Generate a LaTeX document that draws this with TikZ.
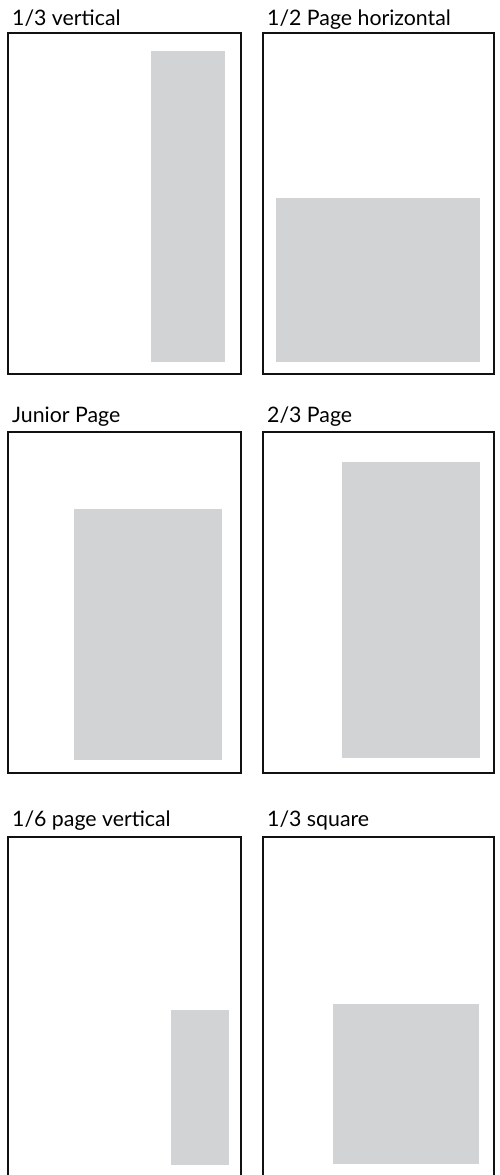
\documentclass[tikz,border=0pt]{standalone}
\usepackage{fontspec}
\setmainfont{Lato}
\usetikzlibrary{positioning}
\definecolor{adGray}{HTML}{D1D3D4}
\definecolor{frameInk}{HTML}{111111}

\begin{document}
\begin{tikzpicture}[
    x=1pt, y=-1pt,
    pageframe/.style={draw=frameInk, line width=2.2pt},
    adarea/.style={fill=adGray, draw=none},
    caption/.style={anchor=base west, inner sep=0pt, font=\fontsize{21.3}{25}\selectfont},
]
\useasboundingbox (0,0) rectangle (500,1175);
\clip (0,0) rectangle (500,1175);
% row 1
\fill[adarea] (151,51) rectangle (225,362);
\fill[adarea] (276,198) rectangle (480,362);
\draw[pageframe] (8,33) rectangle (241,374);
\draw[pageframe] (263,33) rectangle (494,374);
\node[caption] (thirdVert) at (12,25) {1/3 vertical};
\node[caption] (halfHoriz) at (267,25) {1/2 Page horizontal};
% row 2
\fill[adarea] (74,509) rectangle (222,760);
\fill[adarea] (342,462) rectangle (480,758);
\draw[pageframe] (8,432) rectangle (241,773);
\draw[pageframe] (263,432) rectangle (494,773);
\node[caption] (juniorPage) at (12,422) {Junior Page};
\node[caption] (twoThirds)  at (267,422) {2/3 Page};
% row 3 (cut off at the bottom)
\fill[adarea] (171,1010) rectangle (229,1165);
\fill[adarea] (333,1004) rectangle (479,1164);
\draw[pageframe] (8,837) rectangle (241,1200);
\draw[pageframe] (263,837) rectangle (494,1200);
\node[caption] (sixthVert)   at (12,826) {1/6 page vertical};
\node[caption] (thirdSquare) at (267,826) {1/3 square};
\end{tikzpicture}
\end{document}
